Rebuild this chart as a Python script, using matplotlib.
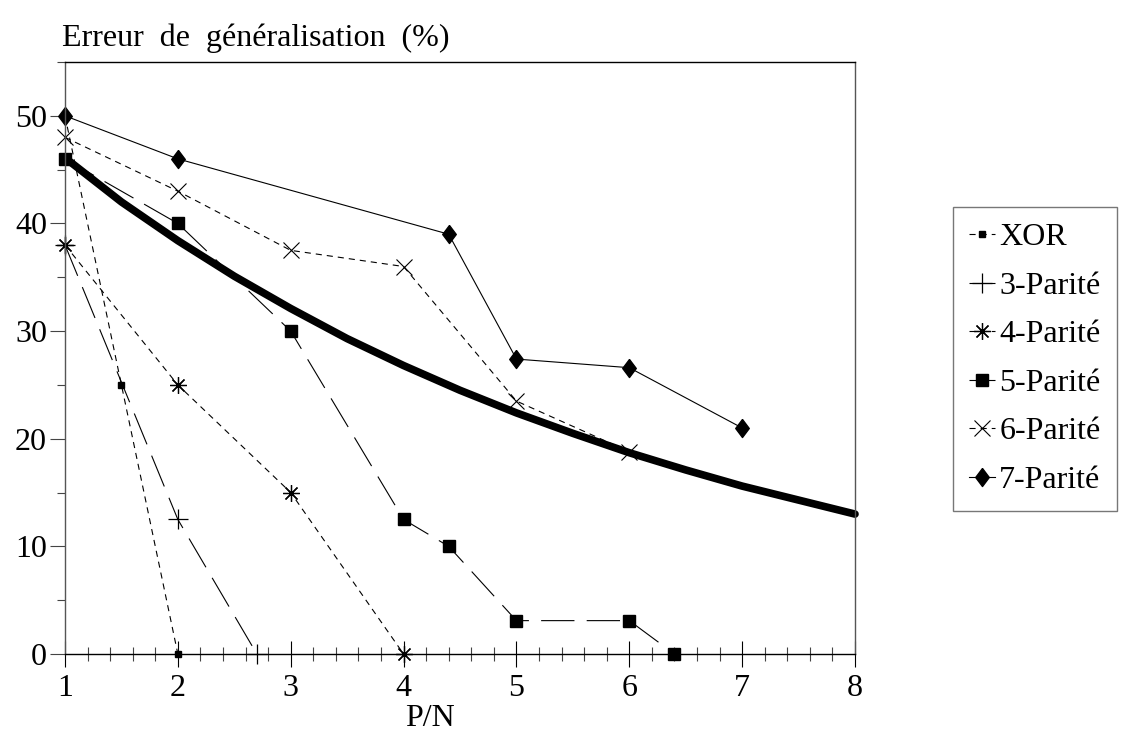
import matplotlib
matplotlib.use("Agg")
import matplotlib.pyplot as plt
from matplotlib.ticker import MultipleLocator

plt.rcParams["font.family"] = ["Liberation Serif", "DejaVu Serif"]

# données
XOR_X = [1, 1.5, 2]
XOR_Y = [50, 25, 0]
P3_X = [1, 2, 2.7]
P3_Y = [38, 12.5, 0]
P4_X = [1, 2, 3, 4]
P4_Y = [38, 25, 15, 0]
P5_X = [1, 2, 3, 4, 4.4, 5, 6, 6.4]
P5_Y = [46, 40, 30, 12.5, 10, 3.1, 3.1, 0]
P6_X = [1, 2, 3, 4, 5, 6]
P6_Y = [48, 43, 37.5, 36, 23.5, 18.8]
P7_X = [1, 2, 4.4, 5, 6, 7]
P7_Y = [50, 46, 39, 27.4, 26.6, 21]
# courbe épaisse (sans légende)
FIT_X = [1, 1.5, 2, 2.5, 3, 3.5, 4, 4.5, 5, 5.5, 6, 6.5, 7, 7.5, 8]
FIT_Y = [46.1, 42.0, 38.4, 35.1, 32.1, 29.3, 26.8, 24.5, 22.4, 20.5, 18.7, 17.1, 15.6, 14.3, 13.0]

FS = 23
DIAMOND = [(0, 1), (0.75, 0), (0, -1), (-0.75, 0), (0, 1)]

fig = plt.figure(figsize=(11.24, 7.52), dpi=100)
ax = fig.add_axes([65 / 1124, 1 - 654 / 752, 790 / 1124, 592 / 752])

short = (0, (5.5, 4.5))
long_ = (0, (30, 11))

ax.plot(XOR_X, XOR_Y, color="black", lw=0.8, ls=short, marker="s", ms=4,
        label="XOR", clip_on=False)
ax.plot(P3_X, P3_Y, color="black", lw=0.8, ls=long_, marker="+", ms=15,
        mew=0.9, label="3-Parité", clip_on=False)
ax.plot(P4_X, P4_Y, color="black", lw=0.8, ls=short, marker=(8, 2, 0), ms=12,
        mew=0.9, label="4-Parité", clip_on=False)
ax.plot(P5_X, P5_Y, color="black", lw=0.8, ls=long_, marker="s", ms=8,
        label="5-Parité", clip_on=False)
ax.plot(P6_X, P6_Y, color="black", lw=0.8, ls=short, marker="x", ms=12,
        mew=0.8, label="6-Parité", clip_on=False)
ax.plot(P7_X, P7_Y, color="black", lw=0.8, ls="-", marker=DIAMOND, ms=13,
        label="7-Parité", clip_on=False)
ax.plot(FIT_X, FIT_Y, color="black", lw=5.5, solid_capstyle="round",
        clip_on=False)

ax.set_xlim(1, 8)
ax.set_ylim(0, 55)

ax.xaxis.set_major_locator(MultipleLocator(1))
ax.xaxis.set_minor_locator(MultipleLocator(0.2))
ax.yaxis.set_major_locator(MultipleLocator(10))
ax.yaxis.set_minor_locator(MultipleLocator(5))

ax.tick_params(axis="x", which="major", direction="inout", length=19,
               width=0.8, pad=5, labelsize=FS)
ax.tick_params(axis="x", which="minor", direction="inout", length=10,
               width=0.8, color="#444444")
ax.tick_params(axis="y", which="major", direction="out", length=11,
               width=0.8, pad=2, labelsize=FS, color="#444444")
ax.tick_params(axis="y", which="minor", direction="out", length=6,
               width=0.8, color="#444444")

for side in ("left", "right"):
    ax.spines[side].set_color("#555555")
    ax.spines[side].set_linewidth(1.0)
ax.spines["top"].set_linewidth(1.0)
ax.spines["bottom"].set_linewidth(1.0)

fig.text(62 / 1124, 1 - 38 / 752, "Erreur  de  généralisation  (%)",
         fontsize=FS, va="center", ha="left")
fig.text(430 / 1124, 1 - 718 / 752, "P/N", fontsize=FS, va="center", ha="center")

leg = fig.legend(loc="upper left", bbox_to_anchor=(953 / 1124, 1 - 207 / 752),
                 fontsize=FS, frameon=True, fancybox=False, handlelength=0.8,
                 handletextpad=0.15, labelspacing=0.6, borderpad=0.5,
                 borderaxespad=0)
leg.get_frame().set_edgecolor("#555555")
leg.get_frame().set_linewidth(1.0)

fig.savefig("out.png", dpi=100)
